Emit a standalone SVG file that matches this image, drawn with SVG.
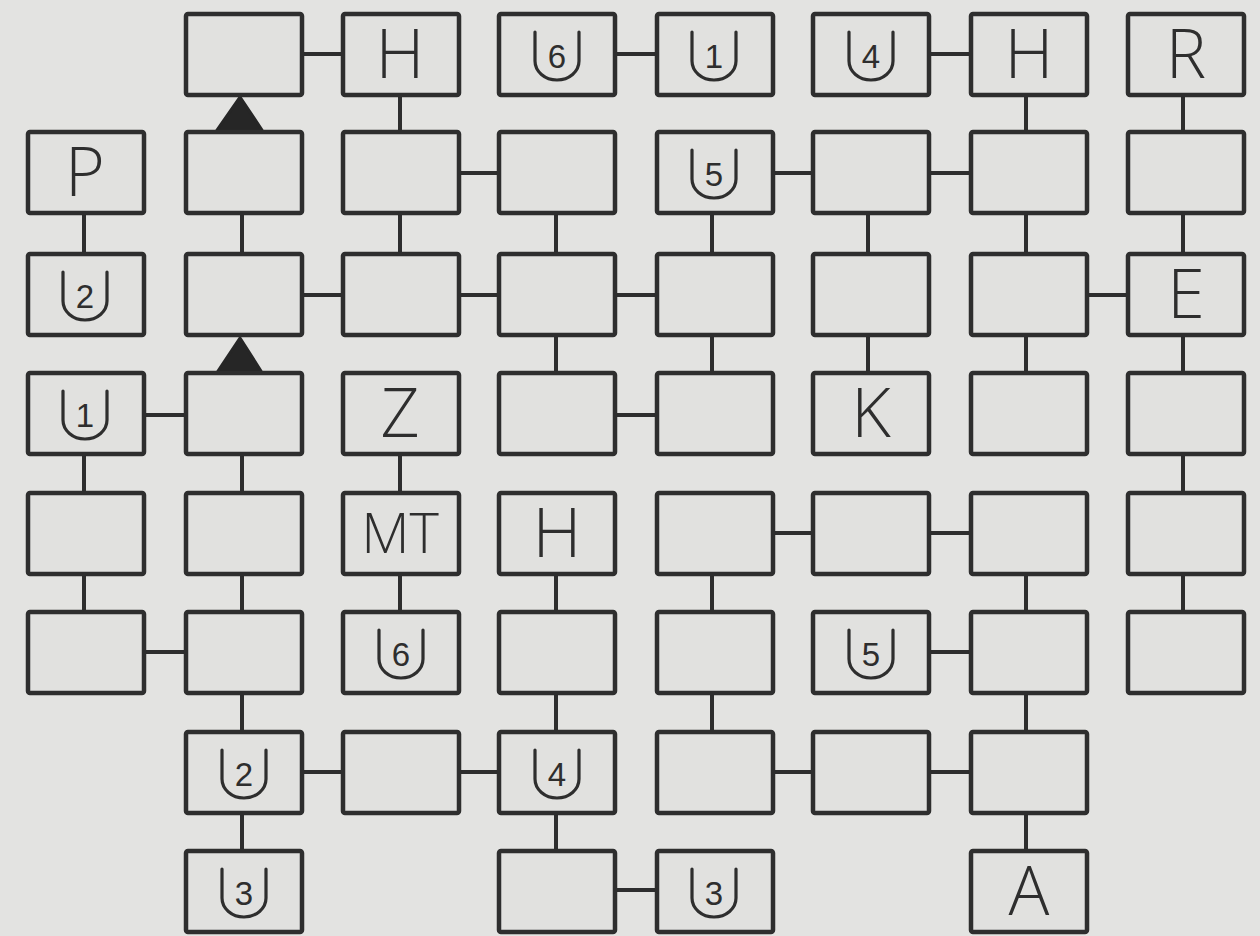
<svg xmlns="http://www.w3.org/2000/svg" width="1260" height="936" viewBox="0 0 1260 936">
<style>
.bg{fill:#e3e3e1}
.box{fill:#e1e1df;stroke:#2e2e2e;stroke-width:4.5}
.con line{stroke:#2e2e2e;stroke-width:4}
.tri{fill:#262626;stroke:#262626;stroke-width:3;stroke-linejoin:round}
.lbl{font-family:"Open Sans","Liberation Sans",Arial,sans-serif;font-weight:350;font-size:68px;fill:#2e2e2e;text-anchor:middle}
.mt{font-size:56px}
.sh{fill:none;stroke:#2e2e2e;stroke-width:3.2;stroke-linecap:round}
.dg{font-family:"Liberation Sans",Arial,sans-serif;font-size:33px;fill:#2e2e2e;text-anchor:middle}
</style>
<defs>
<path id="shield" class="sh" d="M-22,18 V47 A22,19 0 0 0 22,47 V18"/>
</defs>
<rect class="bg" x="0" y="0" width="1260" height="936"/>
<g id="connectors" class="con">
<line x1="302" y1="54" x2="343" y2="54"/>
<line x1="615" y1="54" x2="657" y2="54"/>
<line x1="929" y1="54" x2="971" y2="54"/>
<line x1="459" y1="173" x2="499" y2="173"/>
<line x1="773" y1="173" x2="813" y2="173"/>
<line x1="929" y1="173" x2="971" y2="173"/>
<line x1="302" y1="295" x2="343" y2="295"/>
<line x1="459" y1="295" x2="499" y2="295"/>
<line x1="615" y1="295" x2="657" y2="295"/>
<line x1="1087" y1="295" x2="1128" y2="295"/>
<line x1="144" y1="415" x2="186" y2="415"/>
<line x1="615" y1="415" x2="657" y2="415"/>
<line x1="773" y1="533" x2="813" y2="533"/>
<line x1="929" y1="533" x2="971" y2="533"/>
<line x1="144" y1="652" x2="186" y2="652"/>
<line x1="929" y1="652" x2="971" y2="652"/>
<line x1="302" y1="772" x2="343" y2="772"/>
<line x1="459" y1="772" x2="499" y2="772"/>
<line x1="773" y1="772" x2="813" y2="772"/>
<line x1="929" y1="772" x2="971" y2="772"/>
<line x1="615" y1="890" x2="657" y2="890"/>
<line x1="400" y1="95" x2="400" y2="132"/>
<line x1="1026" y1="95" x2="1026" y2="132"/>
<line x1="1183" y1="95" x2="1183" y2="132"/>
<line x1="84" y1="213" x2="84" y2="254"/>
<line x1="242" y1="213" x2="242" y2="254"/>
<line x1="400" y1="213" x2="400" y2="254"/>
<line x1="556" y1="213" x2="556" y2="254"/>
<line x1="712" y1="213" x2="712" y2="254"/>
<line x1="868" y1="213" x2="868" y2="254"/>
<line x1="1026" y1="213" x2="1026" y2="254"/>
<line x1="1183" y1="213" x2="1183" y2="254"/>
<line x1="556" y1="335" x2="556" y2="373"/>
<line x1="712" y1="335" x2="712" y2="373"/>
<line x1="868" y1="335" x2="868" y2="373"/>
<line x1="1026" y1="335" x2="1026" y2="373"/>
<line x1="1183" y1="335" x2="1183" y2="373"/>
<line x1="84" y1="454" x2="84" y2="493"/>
<line x1="242" y1="454" x2="242" y2="493"/>
<line x1="400" y1="454" x2="400" y2="493"/>
<line x1="1183" y1="454" x2="1183" y2="493"/>
<line x1="84" y1="574" x2="84" y2="612"/>
<line x1="242" y1="574" x2="242" y2="612"/>
<line x1="400" y1="574" x2="400" y2="612"/>
<line x1="556" y1="574" x2="556" y2="612"/>
<line x1="712" y1="574" x2="712" y2="612"/>
<line x1="1026" y1="574" x2="1026" y2="612"/>
<line x1="1183" y1="574" x2="1183" y2="612"/>
<line x1="242" y1="693" x2="242" y2="732"/>
<line x1="556" y1="693" x2="556" y2="732"/>
<line x1="712" y1="693" x2="712" y2="732"/>
<line x1="1026" y1="693" x2="1026" y2="732"/>
<line x1="242" y1="813" x2="242" y2="851"/>
<line x1="556" y1="813" x2="556" y2="851"/>
<line x1="1026" y1="813" x2="1026" y2="851"/>
<polygon class="tri" points="217,130 262,130 240,97"/>
<polygon class="tri" points="218,371 261,371 240,338"/>
</g>
<g id="r0c1"><rect class="box" x="186" y="14" width="116" height="81" rx="2"/></g>
<g id="r0c2"><rect class="box" x="343" y="14" width="116" height="81" rx="2"/><text class="lbl" x="400" y="78">H</text></g>
<g id="r0c3"><rect class="box" x="499" y="14" width="116" height="81" rx="2"/><use href="#shield" x="557" y="14"/><text class="dg" x="557" y="68">6</text></g>
<g id="r0c4"><rect class="box" x="657" y="14" width="116" height="81" rx="2"/><use href="#shield" x="714" y="14"/><text class="dg" x="714" y="68">1</text></g>
<g id="r0c5"><rect class="box" x="813" y="14" width="116" height="81" rx="2"/><use href="#shield" x="871" y="14"/><text class="dg" x="871" y="68">4</text></g>
<g id="r0c6"><rect class="box" x="971" y="14" width="116" height="81" rx="2"/><text class="lbl" x="1029" y="78">H</text></g>
<g id="r0c7"><rect class="box" x="1128" y="14" width="116" height="81" rx="2"/><text class="lbl" x="1186" y="78">R</text></g>

<g id="r1c0"><rect class="box" x="28" y="132" width="116" height="81" rx="2"/><text class="lbl" x="85" y="196">P</text></g>
<g id="r1c1"><rect class="box" x="186" y="132" width="116" height="81" rx="2"/></g>
<g id="r1c2"><rect class="box" x="343" y="132" width="116" height="81" rx="2"/></g>
<g id="r1c3"><rect class="box" x="499" y="132" width="116" height="81" rx="2"/></g>
<g id="r1c4"><rect class="box" x="657" y="132" width="116" height="81" rx="2"/><use href="#shield" x="714" y="132"/><text class="dg" x="714" y="186">5</text></g>
<g id="r1c5"><rect class="box" x="813" y="132" width="116" height="81" rx="2"/></g>
<g id="r1c6"><rect class="box" x="971" y="132" width="116" height="81" rx="2"/></g>
<g id="r1c7"><rect class="box" x="1128" y="132" width="116" height="81" rx="2"/></g>

<g id="r2c0"><rect class="box" x="28" y="254" width="116" height="81" rx="2"/><use href="#shield" x="85" y="254"/><text class="dg" x="85" y="308">2</text></g>
<g id="r2c1"><rect class="box" x="186" y="254" width="116" height="81" rx="2"/></g>
<g id="r2c2"><rect class="box" x="343" y="254" width="116" height="81" rx="2"/></g>
<g id="r2c3"><rect class="box" x="499" y="254" width="116" height="81" rx="2"/></g>
<g id="r2c4"><rect class="box" x="657" y="254" width="116" height="81" rx="2"/></g>
<g id="r2c5"><rect class="box" x="813" y="254" width="116" height="81" rx="2"/></g>
<g id="r2c6"><rect class="box" x="971" y="254" width="116" height="81" rx="2"/></g>
<g id="r2c7"><rect class="box" x="1128" y="254" width="116" height="81" rx="2"/><text class="lbl" x="1186" y="318">E</text></g>

<g id="r3c0"><rect class="box" x="28" y="373" width="116" height="81" rx="2"/><use href="#shield" x="85" y="373"/><text class="dg" x="85" y="427">1</text></g>
<g id="r3c1"><rect class="box" x="186" y="373" width="116" height="81" rx="2"/></g>
<g id="r3c2"><rect class="box" x="343" y="373" width="116" height="81" rx="2"/><text class="lbl" x="400" y="437">Z</text></g>
<g id="r3c3"><rect class="box" x="499" y="373" width="116" height="81" rx="2"/></g>
<g id="r3c4"><rect class="box" x="657" y="373" width="116" height="81" rx="2"/></g>
<g id="r3c5"><rect class="box" x="813" y="373" width="116" height="81" rx="2"/><text class="lbl" x="871" y="437">K</text></g>
<g id="r3c6"><rect class="box" x="971" y="373" width="116" height="81" rx="2"/></g>
<g id="r3c7"><rect class="box" x="1128" y="373" width="116" height="81" rx="2"/></g>

<g id="r4c0"><rect class="box" x="28" y="493" width="116" height="81" rx="2"/></g>
<g id="r4c1"><rect class="box" x="186" y="493" width="116" height="81" rx="2"/></g>
<g id="r4c2"><rect class="box" x="343" y="493" width="116" height="81" rx="2"/><text class="lbl mt" x="400" y="553">MT</text></g>
<g id="r4c3"><rect class="box" x="499" y="493" width="116" height="81" rx="2"/><text class="lbl" x="557" y="557">H</text></g>
<g id="r4c4"><rect class="box" x="657" y="493" width="116" height="81" rx="2"/></g>
<g id="r4c5"><rect class="box" x="813" y="493" width="116" height="81" rx="2"/></g>
<g id="r4c6"><rect class="box" x="971" y="493" width="116" height="81" rx="2"/></g>
<g id="r4c7"><rect class="box" x="1128" y="493" width="116" height="81" rx="2"/></g>

<g id="r5c0"><rect class="box" x="28" y="612" width="116" height="81" rx="2"/></g>
<g id="r5c1"><rect class="box" x="186" y="612" width="116" height="81" rx="2"/></g>
<g id="r5c2"><rect class="box" x="343" y="612" width="116" height="81" rx="2"/><use href="#shield" x="401" y="612"/><text class="dg" x="401" y="666">6</text></g>
<g id="r5c3"><rect class="box" x="499" y="612" width="116" height="81" rx="2"/></g>
<g id="r5c4"><rect class="box" x="657" y="612" width="116" height="81" rx="2"/></g>
<g id="r5c5"><rect class="box" x="813" y="612" width="116" height="81" rx="2"/><use href="#shield" x="871" y="612"/><text class="dg" x="871" y="666">5</text></g>
<g id="r5c6"><rect class="box" x="971" y="612" width="116" height="81" rx="2"/></g>
<g id="r5c7"><rect class="box" x="1128" y="612" width="116" height="81" rx="2"/></g>

<g id="r6c1"><rect class="box" x="186" y="732" width="116" height="81" rx="2"/><use href="#shield" x="244" y="732"/><text class="dg" x="244" y="786">2</text></g>
<g id="r6c2"><rect class="box" x="343" y="732" width="116" height="81" rx="2"/></g>
<g id="r6c3"><rect class="box" x="499" y="732" width="116" height="81" rx="2"/><use href="#shield" x="557" y="732"/><text class="dg" x="557" y="786">4</text></g>
<g id="r6c4"><rect class="box" x="657" y="732" width="116" height="81" rx="2"/></g>
<g id="r6c5"><rect class="box" x="813" y="732" width="116" height="81" rx="2"/></g>
<g id="r6c6"><rect class="box" x="971" y="732" width="116" height="81" rx="2"/></g>

<g id="r7c1"><rect class="box" x="186" y="851" width="116" height="81" rx="2"/><use href="#shield" x="244" y="851"/><text class="dg" x="244" y="905">3</text></g>
<g id="r7c3"><rect class="box" x="499" y="851" width="116" height="81" rx="2"/></g>
<g id="r7c4"><rect class="box" x="657" y="851" width="116" height="81" rx="2"/><use href="#shield" x="714" y="851"/><text class="dg" x="714" y="905">3</text></g>
<g id="r7c6"><rect class="box" x="971" y="851" width="116" height="81" rx="2"/><text class="lbl" x="1029" y="915">A</text></g>
</svg>
